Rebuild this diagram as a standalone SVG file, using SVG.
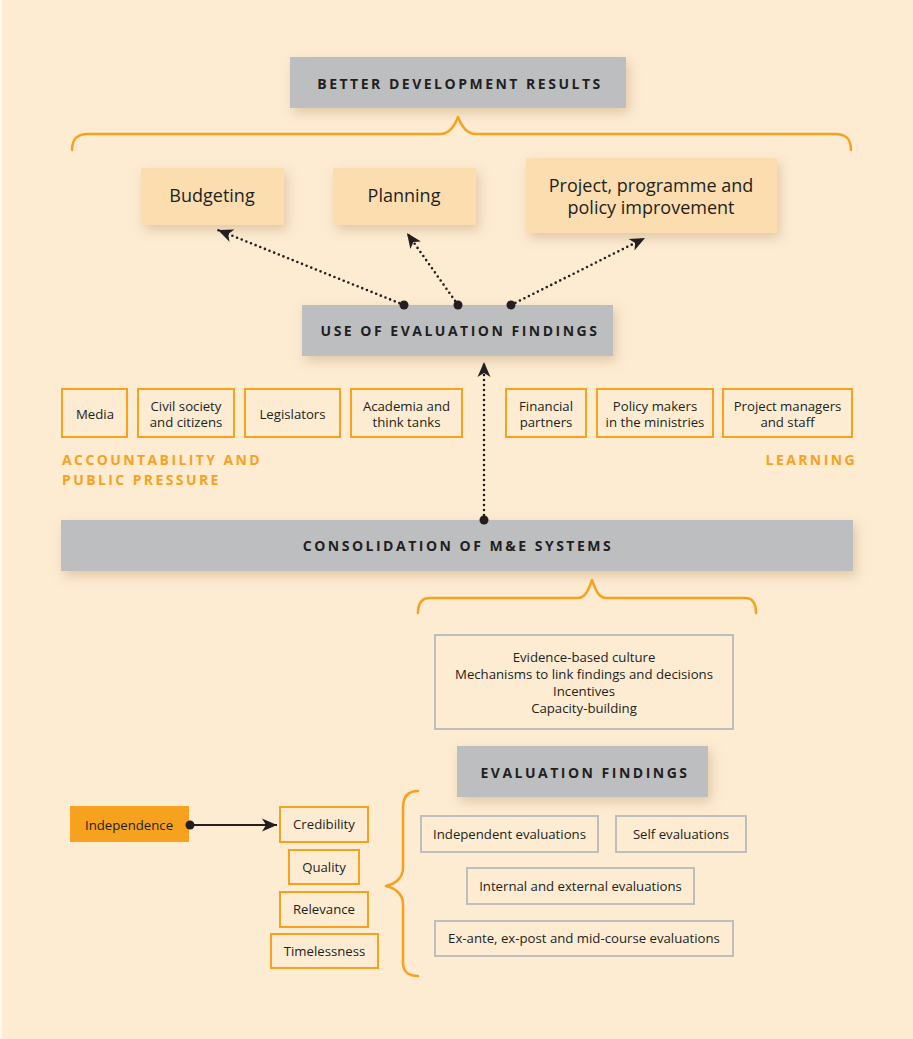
<svg xmlns="http://www.w3.org/2000/svg" width="913" height="1039" viewBox="0 0 913 1039">
<defs>
<style>
.bg{fill:#FDEBD2}
.grey{fill:#BCBEC0}
.tan{fill:#FBDDB0}
.obox{fill:none;stroke:#F6A21E;stroke-width:2}
.gbox{fill:none;stroke:#BCBEC0;stroke-width:2}
.brace{fill:none;stroke:#F6A21E;stroke-width:2.5;stroke-linecap:round;stroke-linejoin:round}
.head{font-family:"Open Sans","Noto Sans",sans-serif;font-weight:700;font-size:14px;letter-spacing:2.5px;fill:#231F20;text-anchor:middle}
.ohead{font-family:"Open Sans","Noto Sans",sans-serif;font-weight:700;font-size:14px;letter-spacing:2.4px;fill:#F6A21E}
.big{font-family:"Open Sans","Noto Sans",sans-serif;font-size:18px;fill:#231F20;text-anchor:middle}
.sm{font-family:"Open Sans","Noto Sans",sans-serif;font-size:13.2px;fill:#231F20;text-anchor:middle}
.dot{stroke:#231F20;stroke-width:2.6;stroke-linecap:round;stroke-dasharray:0 5;fill:none}
.solid{stroke:#231F20;stroke-width:2;fill:none}
.cap{fill:#231F20}
</style>
<filter id="sh" x="-20%" y="-30%" width="150%" height="180%">
<feDropShadow dx="3" dy="5" stdDeviation="6" flood-color="#A88558" flood-opacity="0.35"/>
</filter>
<marker id="ah" viewBox="-16 -8 18 16" refX="0" refY="0" markerWidth="18" markerHeight="16" markerUnits="userSpaceOnUse" orient="auto">
<path d="M0,0 L-15,-6.5 L-11,0 L-15,6.5 Z" fill="#231F20"/>
</marker>
</defs>
<rect class="bg" x="0" y="0" width="913" height="1039"/>
<rect x="0" y="0" width="2" height="1039" fill="#FFF7EC"/>

<g id="better-development-results">
<rect class="grey" x="290" y="57" width="336" height="51" filter="url(#sh)"/>
<text class="head" x="460" y="89">BETTER DEVELOPMENT RESULTS</text>
</g>
<g id="brace-top"><path class="brace" d="M72,150 C72,140 76,134 88,134 L440,134 C450,134 455,125 458,117 C461,125 466,134 476,134 L835,134 C847,134 851,140 851,150"/></g>

<g id="budgeting">
<rect class="tan" x="141" y="168" width="143" height="57" filter="url(#sh)"/>
<text class="big" x="212" y="202">Budgeting</text>
</g>
<g id="planning">
<rect class="tan" x="333" y="168" width="143" height="57" filter="url(#sh)"/>
<text class="big" x="404" y="202">Planning</text>
</g>
<g id="project-improvement">
<rect class="tan" x="526" y="158" width="251" height="75" filter="url(#sh)"/>
<text class="big" x="651" y="192">Project, programme and</text>
<text class="big" x="651" y="214">policy improvement</text>
</g>

<g id="use-of-evaluation-findings">
<rect class="grey" x="302" y="305" width="311" height="51" filter="url(#sh)"/>
<text class="head" x="460" y="336">USE OF EVALUATION FINDINGS</text>
</g>

<g id="media"><rect class="obox" x="62" y="389" width="65" height="48"/><text class="sm" x="95" y="418.5">Media</text></g>
<g id="civil-society"><rect class="obox" x="138" y="389" width="96" height="48"/><text class="sm" x="186" y="410.5">Civil society</text><text class="sm" x="186" y="426.5">and citizens</text></g>
<g id="legislators"><rect class="obox" x="245" y="389" width="95" height="48"/><text class="sm" x="292.5" y="418.5">Legislators</text></g>
<g id="academia"><rect class="obox" x="351" y="389" width="111" height="48"/><text class="sm" x="406.5" y="410.5">Academia and</text><text class="sm" x="406.5" y="426.5">think tanks</text></g>
<g id="financial-partners"><rect class="obox" x="506" y="389" width="80" height="48"/><text class="sm" x="546" y="410.5">Financial</text><text class="sm" x="546" y="426.5">partners</text></g>
<g id="policy-makers"><rect class="obox" x="597" y="389" width="116" height="48"/><text class="sm" x="655" y="410.5">Policy makers</text><text class="sm" x="655" y="426.5">in the ministries</text></g>
<g id="project-managers"><rect class="obox" x="723" y="389" width="129" height="48"/><text class="sm" x="787.5" y="410.5">Project managers</text><text class="sm" x="787.5" y="426.5">and staff</text></g>

<g id="accountability-label">
<text class="ohead" x="62" y="465">ACCOUNTABILITY AND</text>
<text class="ohead" x="62" y="485">PUBLIC PRESSURE</text>
</g>
<g id="learning-label"><text class="ohead" x="857" y="465" text-anchor="end">LEARNING</text></g>

<g id="consolidation">
<rect class="grey" x="61" y="520" width="792" height="51" filter="url(#sh)"/>
<text class="head" x="458" y="551">CONSOLIDATION OF M&amp;E SYSTEMS</text>
</g>
<g id="brace-middle"><path class="brace" d="M418,613 C418,604 421,598 430,598 L578,598 C586,598 589,588 592,580 C595,588 598,598 606,598 L745,598 C753,598 756,604 756,613"/></g>

<g id="conditions">
<rect class="gbox" x="435" y="635" width="298" height="94"/>
<text class="sm" x="584" y="661.5">Evidence-based culture</text>
<text class="sm" x="584" y="678.5">Mechanisms to link findings and decisions</text>
<text class="sm" x="584" y="695.5">Incentives</text>
<text class="sm" x="584" y="712.5">Capacity-building</text>
</g>

<g id="evaluation-findings">
<rect class="grey" x="457" y="746" width="251" height="51" filter="url(#sh)"/>
<text class="head" x="585" y="778">EVALUATION FINDINGS</text>
</g>

<g id="independence">
<rect x="70" y="806" width="119" height="36" fill="#F6A21E"/>
<text class="sm" x="129" y="829.5">Independence</text>
</g>
<g id="credibility"><rect class="obox" x="280" y="807" width="88" height="35"/><text class="sm" x="324" y="829">Credibility</text></g>
<g id="quality"><rect class="obox" x="289" y="850" width="70" height="34"/><text class="sm" x="324" y="871.5">Quality</text></g>
<g id="relevance"><rect class="obox" x="280" y="892" width="88" height="35"/><text class="sm" x="324" y="914">Relevance</text></g>
<g id="timelessness"><rect class="obox" x="271" y="934" width="107" height="34"/><text class="sm" x="324.5" y="955.5">Timelessness</text></g>

<g id="brace-left"><path class="brace" d="M418,791 C408,791 403,797 403,808 L403,868 C403,878 395,884 386,886 C395,888 403,894 403,904 L403,962 C403,972 408,976 418,976"/></g>

<g id="independent-evaluations"><rect class="gbox" x="421" y="816" width="177" height="36"/><text class="sm" x="509.5" y="838.5">Independent evaluations</text></g>
<g id="self-evaluations"><rect class="gbox" x="616" y="816" width="130" height="36"/><text class="sm" x="681" y="838.5">Self evaluations</text></g>
<g id="internal-external"><rect class="gbox" x="467" y="868" width="227" height="36"/><text class="sm" x="580.5" y="890.5">Internal and external evaluations</text></g>
<g id="ex-ante"><rect class="gbox" x="435" y="921" width="298" height="35"/><text class="sm" x="584" y="943">Ex-ante, ex-post and mid-course evaluations</text></g>

<g id="connectors">
<line class="dot" x1="404" y1="305" x2="218" y2="230" marker-end="url(#ah)"/>
<line class="dot" x1="458" y1="305" x2="407" y2="233" marker-end="url(#ah)"/>
<line class="dot" x1="511" y1="305" x2="645" y2="238" marker-end="url(#ah)"/>
<line class="dot" x1="484" y1="520" x2="484" y2="362" marker-end="url(#ah)"/>
<line class="solid" x1="190" y1="825" x2="277" y2="825" marker-end="url(#ah)"/>
<circle class="cap" cx="404" cy="305" r="4.5"/>
<circle class="cap" cx="458" cy="305" r="4.5"/>
<circle class="cap" cx="511" cy="305" r="4.5"/>
<circle class="cap" cx="484" cy="520" r="4.5"/>
<circle class="cap" cx="190" cy="825" r="4.5"/>
</g>
</svg>
